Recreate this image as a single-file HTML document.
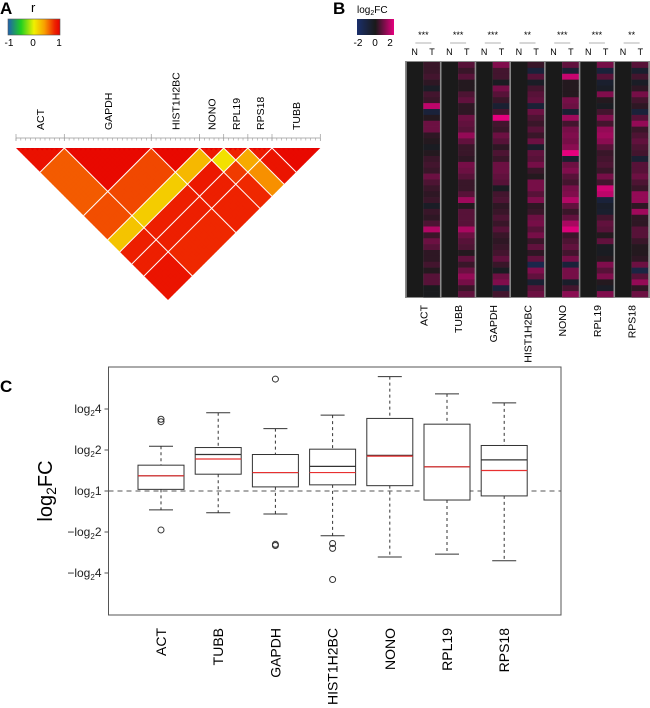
<!DOCTYPE html>
<html><head><meta charset="utf-8"><style>
html,body{margin:0;padding:0;background:#fff;}
svg{display:block;font-family:"Liberation Sans",Arial,sans-serif;}
</style></head><body>
<svg id="fig" width="650" height="708" viewBox="0 0 650 708" xmlns="http://www.w3.org/2000/svg">
<defs>
<linearGradient id="rgrad" x1="0" x2="1" y1="0" y2="0">
<stop offset="0" stop-color="#2060b0"/><stop offset="0.25" stop-color="#20d020"/><stop offset="0.5" stop-color="#f0f000"/><stop offset="0.7" stop-color="#f8a000"/><stop offset="0.9" stop-color="#ee2200"/><stop offset="1" stop-color="#e60000"/>
</linearGradient>
<linearGradient id="fcgrad" x1="0" x2="1" y1="0" y2="0">
<stop offset="0" stop-color="#1a2f6b"/><stop offset="0.5" stop-color="#1a1a1a"/><stop offset="1" stop-color="#e6007e"/>
</linearGradient>
<clipPath id="triclip"><polygon points="16,148 320.3,148 168,300"/></clipPath>
</defs>
<g>
<text x="0" y="14" font-size="17" font-weight="bold">A</text>
<text x="31" y="12" font-size="13">r</text>
<rect x="8" y="19" width="52" height="16" fill="url(#rgrad)" stroke="#555" stroke-width="0.6"/>
<text x="9" y="46" font-size="10" text-anchor="middle">-1</text>
<text x="33" y="46" font-size="10" text-anchor="middle">0</text>
<text x="59" y="46" font-size="10" text-anchor="middle">1</text>
<g id="aLabels"></g>
<g id="aAxis"></g>
<g id="aCells" clip-path="url(#triclip)"></g>
<g id="aLines"></g>
</g>
<g>
<text x="333" y="14" font-size="17" font-weight="bold">B</text>
<text x="357" y="13" font-size="10">log<tspan font-size="7" dy="2">2</tspan><tspan dy="-2">FC</tspan></text>
<rect x="357" y="19" width="37" height="16" fill="url(#fcgrad)"/>
<text x="358" y="46" font-size="10" text-anchor="middle">-2</text>
<text x="375" y="46" font-size="10" text-anchor="middle">0</text>
<text x="390" y="46" font-size="10" text-anchor="middle">2</text>
<g id="bHeat"></g>
</g>
<g>
<text x="0" y="392" font-size="17" font-weight="bold">C</text>
<g id="cPlot"></g>
</g>
</svg>
<script>
const NS="http://www.w3.org/2000/svg";
function mk(tag,attrs,parent){const e=document.createElementNS(NS,tag);for(const k in attrs)e.setAttribute(k,attrs[k]);parent.appendChild(e);return e;}

/* ---------- Panel A data ---------- */
const aGenes=["ACT","GAPDH","HIST1H2BC","NONO","RPL19","RPS18","TUBB"];
const aCounts=[10,18,10,5,5,5,10];
const aCorr=[
[0.90,0.62,0.66,0.22,0.82,0.82,0.88],
[0.62,0.95,0.68,0.18,0.82,0.82,0.78],
[0.66,0.68,0.95,0.28,0.86,0.82,0.80],
[0.22,0.18,0.28,0.85,0.08,0.72,0.78],
[0.82,0.82,0.86,0.08,0.80,0.35,0.45],
[0.82,0.82,0.82,0.72,0.35,0.85,0.88],
[0.88,0.78,0.80,0.78,0.45,0.88,0.95]];

/* ---------- Panel B data ---------- */
const bGenes=["ACT","TUBB","GAPDH","HIST1H2BC","NONO","RPL19","RPS18"];
const bStars=["***","***","***","**","***","***","**"];
const bACT=[0.3,0.3,0.4,0.2,-0.3,0.4,0.3,1.6,-0.8,0.1,0.8,0.8,0.2,0.1,-0.2,0.1,0.3,0.4,0.3,0.8,0.5,0.3,0.2,0.3,-0.3,0.3,0.2,0.5,1.5,0.3,0.8,0.6,0.2,0.2,0.4,0.1,0.6,0.6,-0.1,-0.1];
const bTUBB=[0.6,0.3,0.6,0.1,0.1,0.5,0.7,0.2,0.2,0.8,0.7,0.6,1.2,0.7,0.3,0.3,0.2,0.9,0.8,0.6,0.3,0.3,0.6,1.3,0.1,0.6,0.6,0.6,1.4,0.8,0.6,0.5,0.1,0.7,0.3,0.8,1.2,0.9,0.3,0.7];
const bGAPDH=[1.0,0.4,0.4,-0.2,0.9,0.6,0.3,-0.6,0.4,2.0,0.4,0.3,0.8,0.6,0.2,0.5,0.3,0.8,0.8,0.7,0.6,-0.2,0.4,0.5,0.2,0.3,0.5,0.3,0.6,0.3,0.2,0.3,0.4,0.7,0.3,-0.2,0.8,1.0,-0.8,0.4];
const bHIST=[0.3,-0.8,0.6,-0.3,0.4,0.6,0.7,-0.7,0.8,0.5,0.3,0.6,0.3,0.8,-0.4,0.7,0.6,0.9,0.3,0.1,0.9,0.9,0.6,1.0,0.2,0.3,0.8,0.9,0.6,0.9,0.3,0.7,0.2,0.7,-1.2,1.0,0.7,-0.6,0.6,0.8];
const bNONO=[0.7,-0.6,1.7,0.1,0.1,0.1,0.9,0.8,-0.6,1.3,0.4,0.9,1.0,0.9,1.1,2.0,-0.5,0.8,1.0,0.6,0.4,0.9,1.0,1.5,0.7,0.3,0.7,1.4,1.9,0.3,0.5,0.7,0.4,0.9,-0.8,0.9,0.9,-0.4,0.4,1.1];
const bRPL19=[0.9,-0.8,0.6,-0.5,-0.3,1.0,0.1,-0.2,0.4,1.0,0.4,1.2,1.3,1.1,0.6,0.3,0.4,0.5,0.3,0.9,0.4,1.8,1.6,-0.8,-0.4,-0.5,0.4,0.7,0.6,0.1,0.7,-0.2,-0.2,0.1,1.0,0.6,1.0,0.1,-0.3,1.0];
const bRPS18=[0.6,-0.5,0.4,-0.3,0.2,0.9,0.4,0.2,-0.8,0.6,1.2,0.3,0.5,0.7,0.5,0.4,-0.6,0.6,0.6,0.8,0.5,0.3,1.2,1.2,0.2,1.3,0.2,0.2,0.6,0.6,0.3,0.1,0.1,0.2,0.8,-1.0,0.6,1.2,0.2,0.8];
const bSeries=[bACT,bTUBB,bGAPDH,bHIST,bNONO,bRPL19,bRPS18];

/* ---------- Panel C data ---------- */
const cGenes=["ACT","TUBB","GAPDH","HIST1H2BC","NONO","RPL19","RPS18"];
const cTickLabels=["log₂4","log₂2","log₂1","−log₂2","−log₂4"];
const cTickValues=[2,1,0,-1,-2];
const cWhiskerHigh=[1.09,1.91,1.52,1.85,2.79,2.37,2.15];
const cQ3=[0.63,1.06,0.89,1.02,1.77,1.63,1.11];
const cMedian=[0.37,0.89,0.45,0.60,0.87,0.59,0.76];
const cMean=[0.37,0.78,0.45,0.45,0.85,0.59,0.50];
const cQ1=[0.04,0.41,0.10,0.15,0.13,-0.22,-0.12];
const cWhiskerLow=[-0.46,-0.53,-0.56,-1.09,-1.61,-1.54,-1.70];
const cOutliers=[[1.75,1.69,-0.95],[],[2.73,-1.30,-1.33],[-1.28,-1.40,-2.16],[],[],[]];

/* ---------- Panel A draw ---------- */
(function(){
  const x0=16,x1=320.3,y0=148;
  const n=aCounts.reduce((a,b)=>a+b,0);
  const s=(x1-x0)/n;
  const grp=[];const bounds=[x0];let acc=0;
  aCounts.forEach((c,g)=>{for(let k=0;k<c;k++)grp.push(g);acc+=c;bounds.push(x0+acc*s);});
  const stops=[[-1,[32,96,176]],[-0.5,[32,208,32]],[0,[240,240,0]],[0.4,[248,160,0]],[0.8,[238,34,0]],[1,[230,0,0]]];
  function col(r){for(let k=0;k<stops.length-1;k++){const a=stops[k],b=stops[k+1];if(r<=b[0]){const t=(r-a[0])/(b[0]-a[0]);const c=a[1].map((v,q)=>Math.round(v+(b[1][q]-v)*t));return `rgb(${c})`;}}return "rgb(230,0,0)";}
  const cells=document.getElementById('aCells');
  for(let i=0;i<n;i++)for(let j=i;j<n;j++){
    const xi=x0+(i+0.5)*s,xj=x0+(j+0.5)*s;
    const cx=(xi+xj)/2,cy=y0+(xj-xi)/2,h=s/2+0.35;
    const v=(i===j)?1:aCorr[grp[i]][grp[j]];
    const p=mk('polygon',{points:`${cx},${cy-h} ${cx+h},${cy} ${cx},${cy+h} ${cx-h},${cy}`,fill:col(v)},cells);
    
    
  }
  const lines=document.getElementById('aLines');
  for(let k=1;k<bounds.length-1;k++){
    const b=bounds[k];
    const l1=mk('line',{x1:b,y1:y0,x2:(b+x1)/2,y2:y0+(x1-b)/2,stroke:'#fff','stroke-width':1},lines);
    
    
    const l2=mk('line',{x1:b,y1:y0,x2:(x0+b)/2,y2:y0+(b-x0)/2,stroke:'#fff','stroke-width':1},lines);
    
    
  }
  const ax=document.getElementById('aAxis');
  const al=mk('line',{x1:x0,y1:138,x2:x1,y2:138,stroke:'#999','stroke-width':0.8},ax);
  
  
  for(let k=0;k<=n;k++){const t=mk('line',{x1:x0+k*s,y1:138,x2:x0+k*s,y2:140.5,stroke:'#999','stroke-width':0.6},ax);
    
    }
  bounds.forEach(b=>{const t=mk('line',{x1:b,y1:134,x2:b,y2:141,stroke:'#999','stroke-width':0.7},ax);
    
    });
  const lab=document.getElementById('aLabels');
  aGenes.forEach((g,k)=>{
    const cx=(bounds[k]+bounds[k+1])/2+4;
    const t=mk('text',{x:0,y:0,'font-size':10.5,'text-anchor':'start',transform:`translate(${cx},130) rotate(-90)`},lab);
    t.textContent=g;
    
    
  });
})();

/* ---------- Panel B draw ---------- */
(function(){
  const g=document.getElementById('bHeat');
  const X0=406,X1=649,Y0=62,Y1=297;
  const pw=(X1-X0)/bGenes.length;
  const rows=bACT.length,rh=(Y1-Y0)/rows;
  function col(v){v=Math.max(-2,Math.min(2,v));let c;
    if(v>=0){const t=v/2;c=[26+(230-26)*t,26-26*t,26+(126-26)*t];}
    else{const t=-v/2;c=[26,26+(47-26)*t,26+(107-26)*t];}
    return `rgb(${c.map(Math.round)})`;}
  const bg=mk('rect',{x:X0-1,y:Y0-1,width:X1-X0+2,height:Y1-Y0+2,fill:'#8a8a8a'},g);
  
  
  bGenes.forEach((gene,p)=>{
    const px=X0+p*pw;
    const n=mk('rect',{x:px+0.8,y:Y0,width:pw/2-0.8,height:Y1-Y0,fill:'#1a1a1a'},g);
    
    
    bSeries[p].forEach((v,r)=>{
      const c=mk('rect',{x:px+pw/2,y:Y0+r*rh,width:pw/2-0.8,height:rh+0.3,fill:col(v)},g);
      
      
    });
    const cx=px+pw/2;
    const st=mk('text',{x:cx,y:38,'font-size':9,'text-anchor':'middle'},g);st.textContent=bStars[p];
    
    
    const ul=mk('line',{x1:cx-8,y1:43,x2:cx+8,y2:43,stroke:'#999','stroke-width':0.8},g);
    
    
    const tn=mk('text',{x:px+pw*0.25,y:55,'font-size':9,'text-anchor':'middle'},g);tn.textContent='N';
    
    
    const tt=mk('text',{x:px+pw*0.75,y:55,'font-size':9,'text-anchor':'middle'},g);tt.textContent='T';
    
    
    const lb=mk('text',{x:0,y:0,'font-size':10.5,'text-anchor':'end',transform:`translate(${cx+4},305) rotate(-90)`},g);lb.textContent=gene;
    
    
  });
})();

/* ---------- Panel C draw ---------- */
(function(){
  const g=document.getElementById('cPlot');
  const L=108.5,R=561,T=367,B=615,Y0=491,unit=41;
  const y=v=>Y0-unit*v;
  const x=i=>161+i*57.2;
  const fr=mk('rect',{x:L,y:T,width:R-L,height:B-T,fill:'none',stroke:'#555','stroke-width':1},g);
  
  
  const ref=mk('line',{x1:L,y1:y(0),x2:R,y2:y(0),stroke:'#555','stroke-width':1,'stroke-dasharray':'5,4'},g);
  
  
  cTickValues.forEach((v,k)=>{
    const tk=mk('line',{x1:L-4,y1:y(v),x2:L,y2:y(v),stroke:'#555'},g);
    
    
    const lbl=cTickLabels[k];const neg=lbl.startsWith('−');const num=lbl.slice(-1);
    const t=mk('text',{x:L-7,y:y(v)+4,'font-size':12,'text-anchor':'end',fill:'#222'},g);
    t.innerHTML=(neg?'−':'')+'log<tspan font-size="8" dy="3">2</tspan><tspan dy="-3">'+num+'</tspan>';
    
    
  });
  const yt=mk('text',{x:0,y:0,'font-size':20,'text-anchor':'middle',transform:`translate(52,${Y0}) rotate(-90)`},g);
  yt.innerHTML='log<tspan font-size="14" dy="4">2</tspan><tspan dy="-4">FC</tspan>';
  
  
  cGenes.forEach((gene,i)=>{
    const cx=x(i),hw=23,cw=12;
    const w1=mk('line',{x1:cx,y1:y(cWhiskerHigh[i]),x2:cx,y2:y(cQ3[i]),stroke:'#333','stroke-dasharray':'3,3'},g);
    
    
    const w2=mk('line',{x1:cx,y1:y(cQ1[i]),x2:cx,y2:y(cWhiskerLow[i]),stroke:'#333','stroke-dasharray':'3,3'},g);
    
    
    const c1=mk('line',{x1:cx-cw,y1:y(cWhiskerHigh[i]),x2:cx+cw,y2:y(cWhiskerHigh[i]),stroke:'#333'},g);
    
    
    const c2=mk('line',{x1:cx-cw,y1:y(cWhiskerLow[i]),x2:cx+cw,y2:y(cWhiskerLow[i]),stroke:'#333'},g);
    
    
    const bx=mk('rect',{x:cx-hw,y:y(cQ3[i]),width:2*hw,height:y(cQ1[i])-y(cQ3[i]),fill:'#fff',stroke:'#333'},g);
    
    
    const md=mk('line',{x1:cx-hw,y1:y(cMedian[i]),x2:cx+hw,y2:y(cMedian[i]),stroke:'#333','stroke-width':1.2},g);
    
    
    const mn=mk('line',{x1:cx-hw,y1:y(cMean[i]),x2:cx+hw,y2:y(cMean[i]),stroke:'#e83030','stroke-width':1.2},g);
    
    
    cOutliers[i].forEach(o=>{
      const c=mk('circle',{cx:cx,cy:y(o),r:3,fill:'none',stroke:'#333','stroke-width':1},g);
      
      
    });
    const t=mk('text',{x:0,y:0,'font-size':14,'text-anchor':'end',transform:`translate(${cx+5},628) rotate(-90)`},g);
    t.textContent=gene;
    
    
  });
})();
</script>
</body></html>
